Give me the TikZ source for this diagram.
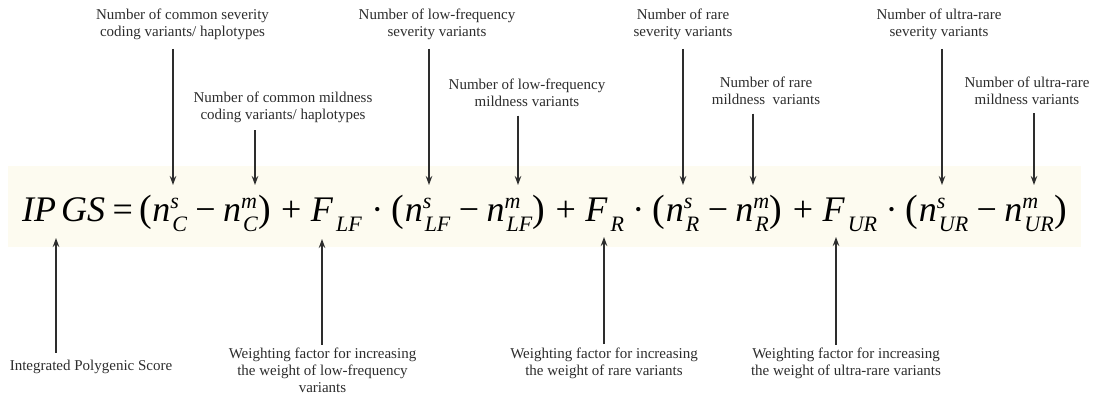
\documentclass[tikz,border=0pt]{standalone}
\usepackage{fontspec}
\setmainfont{Liberation Serif}
\usetikzlibrary{arrows.meta}
\definecolor{ink}{RGB}{45,45,45}
\definecolor{band}{RGB}{253,251,240}
\newcommand{\mainsz}{\fontsize{36}{40}\selectfont}
\newcommand{\scsz}{\fontsize{22}{24}\selectfont}
\newsavebox\supbox
\newsavebox\subbox
\newlength\scw
\newcommand{\nterm}[2]{%
  \sbox\supbox{\scsz\itshape #1}\sbox\subbox{\scsz\itshape #2}%
  \setlength\scw{\wd\subbox}\addtolength\scw{2pt}%
  \ifdim\wd\supbox>\scw \setlength\scw{\wd\supbox}\fi
  \textit{n}\makebox[\scw][l]{\rlap{\raisebox{13pt}{\usebox\supbox}}\hspace{2pt}\raisebox{-10pt}{\usebox\subbox}}}
\newcommand{\Fterm}[1]{\textit{F}\hspace{3pt}\raisebox{-10pt}{\scsz\itshape #1}}
\newcommand{\lpar}{{\fontsize{38}{40}\selectfont(}}
\newcommand{\rpar}{{\fontsize{38}{40}\selectfont)}}
\tikzset{
  lab/.style={font=\fontsize{15}{17}\selectfont, text=ink, align=center, inner sep=0pt},
  arr/.style={draw=ink, line width=1.2pt, -{Stealth[length=9pt,width=6.5pt]}},
  term/.style={font=\mainsz, anchor=base west, inner sep=0pt},
  nx/.style={term, xshift=#1}
}
\begin{document}
\begin{tikzpicture}[x=1pt,y=-1pt]
\useasboundingbox (0,0) rectangle (1095,396);
\fill[white] (0,0) rectangle (1095,396);
\fill[band] (8,166) rectangle (1081,247);

% formula terms (chained)
\node[term] (ips) at (22,221) {\textit{IP\hspace{5pt}GS}};
\node[nx=7pt] (eq) at (ips.base east) {=};
\node[nx=6pt] (lp1) at (eq.base east) {\lpar};
\node[nx=0pt] (nsC) at (lp1.base east) {\nterm{s}{C}};
\node[nx=8pt] (mi1) at (nsC.base east) {−};
\node[nx=7pt] (nmC) at (mi1.base east) {\nterm{m}{C}};
\node[nx=0pt] (rp1) at (nmC.base east) {\rpar};
\node[nx=10pt] (pl1) at (rp1.base east) {+};
\node[nx=9pt] (FLF) at (pl1.base east) {\Fterm{LF}};
\node[nx=9pt] (dt1) at (FLF.base east) {·};
\node[nx=8pt] (lp2) at (dt1.base east) {\lpar};
\node[nx=0pt] (nsLF) at (lp2.base east) {\nterm{s}{LF}};
\node[nx=8pt] (mi2) at (nsLF.base east) {−};
\node[nx=7pt] (nmLF) at (mi2.base east) {\nterm{m}{LF}};
\node[nx=0pt] (rp2) at (nmLF.base east) {\rpar};
\node[nx=10pt] (pl2) at (rp2.base east) {+};
\node[nx=9pt] (FR) at (pl2.base east) {\Fterm{R}};
\node[nx=8pt] (dt2) at (FR.base east) {·};
\node[nx=8pt] (lp3) at (dt2.base east) {\lpar};
\node[nx=0pt] (nsR) at (lp3.base east) {\nterm{s}{R}};
\node[nx=8pt] (mi3) at (nsR.base east) {−};
\node[nx=7pt] (nmR) at (mi3.base east) {\nterm{m}{R}};
\node[nx=0pt] (rp3) at (nmR.base east) {\rpar};
\node[nx=10pt] (pl3) at (rp3.base east) {+};
\node[nx=9pt] (FUR) at (pl3.base east) {\Fterm{UR}};
\node[nx=8pt] (dt3) at (FUR.base east) {·};
\node[nx=8pt] (lp4) at (dt3.base east) {\lpar};
\node[nx=0pt] (nsUR) at (lp4.base east) {\nterm{s}{UR}};
\node[nx=8pt] (mi4) at (nsUR.base east) {−};
\node[nx=7pt] (nmUR) at (mi4.base east) {\nterm{m}{UR}};
\node[nx=0pt] (rp4) at (nmUR.base east) {\rpar};

% top labels
\node[lab, anchor=north] (t1) at (182.5,7.6) {\strut Number of common severity\\coding variants/ haplotypes\strut};
\node[lab, anchor=north] (t2) at (283,90.6) {\strut Number of common mildness\\coding variants/ haplotypes\strut};
\node[lab, anchor=north] (t3) at (437,7.6) {\strut Number of low-frequency\\severity variants\strut};
\node[lab, anchor=north] (t4) at (527,77.6) {\strut Number of low-frequency\\mildness variants\strut};
\node[lab, anchor=north] (t5) at (683,7.6) {\strut Number of rare\\severity variants\strut};
\node[lab, anchor=north] (t6) at (766,75.6) {\strut Number of rare\\mildness~ variants\strut};
\node[lab, anchor=north] (t7) at (939,7.6) {\strut Number of ultra-rare\\severity variants\strut};
\node[lab, anchor=north] (t8) at (1027,75.6) {\strut Number of ultra-rare\\mildness variants\strut};

% bottom labels
\node[lab, anchor=north] (b1) at (91,358.6) {\strut Integrated Polygenic Score\strut};
\node[lab, anchor=north] (b2) at (322.5,346.6) {\strut Weighting factor for increasing\\the weight of low-frequency\\variants\strut};
\node[lab, anchor=north] (b3) at (604,346.6) {\strut Weighting factor for increasing\\the weight of rare variants\strut};
\node[lab, anchor=north] (b4) at (846,346.6) {\strut Weighting factor for increasing\\the weight of ultra-rare variants\strut};

% arrow tips
\coordinate (d1) at (173,185);
\coordinate (d2) at (255,185);
\coordinate (d3) at (429,185);
\coordinate (d4) at (518,185);
\coordinate (d5) at (683,185);
\coordinate (d6) at (753,185);
\coordinate (d7) at (942,185);
\coordinate (d8) at (1034,185);
\coordinate (u1) at (56,238);
\coordinate (u2) at (322,239);
\coordinate (u3) at (604,237);
\coordinate (u4) at (836,237);

\draw[arr, shorten <=7pt] (t1.south -| d1) -- (d1);
\draw[arr, shorten <=5pt] (t2.south -| d2) -- (d2);
\draw[arr, shorten <=7pt] (t3.south -| d3) -- (d3);
\draw[arr, shorten <=3.5pt] (t4.south -| d4) -- (d4);
\draw[arr, shorten <=7pt] (t5.south -| d5) -- (d5);
\draw[arr, shorten <=3.5pt] (t6.south -| d6) -- (d6);
\draw[arr, shorten <=7pt] (t7.south -| d7) -- (d7);
\draw[arr, shorten <=3pt] (t8.south -| d8) -- (d8);

\draw[arr, shorten <=6pt] (b1.north -| u1) -- (u1);
\draw[arr, shorten <=2pt] (b2.north -| u2) -- (u2);
\draw[arr, shorten <=2.5pt] (b3.north -| u3) -- (u3);
\draw[arr, shorten <=2pt] (b4.north -| u4) -- (u4);
\end{tikzpicture}
\end{document}
